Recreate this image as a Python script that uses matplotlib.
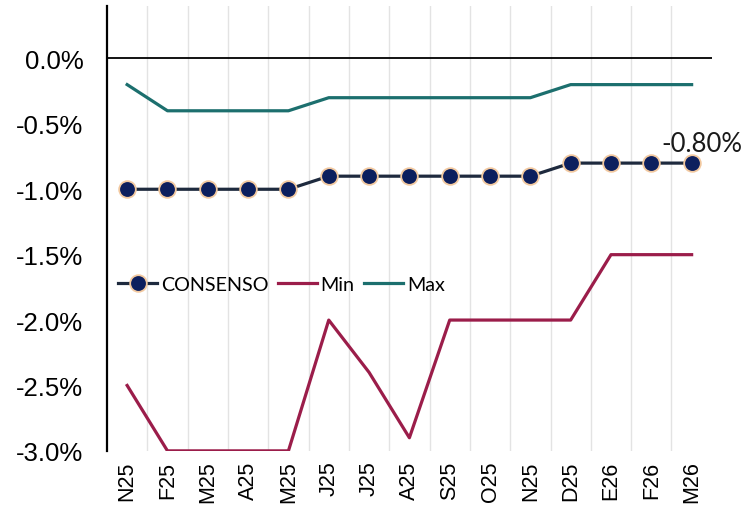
import matplotlib
matplotlib.use("Agg")
import matplotlib.pyplot as plt
from matplotlib.ticker import FuncFormatter, MultipleLocator

months = ["N25", "F25", "M25", "A25", "M25", "J25", "J25", "A25",
          "S25", "O25", "N25", "D25", "E26", "F26", "M26"]
consenso = [-1.0, -1.0, -1.0, -1.0, -1.0, -0.9, -0.9, -0.9,
            -0.9, -0.9, -0.9, -0.8, -0.8, -0.8, -0.8]
min_vals = [-2.5, -3.0, -3.0, -3.0, -3.0, -2.0, -2.4, -2.9,
            -2.0, -2.0, -2.0, -2.0, -1.5, -1.5, -1.5]
max_vals = [-0.2, -0.4, -0.4, -0.4, -0.4, -0.3, -0.3, -0.3,
            -0.3, -0.3, -0.3, -0.2, -0.2, -0.2, -0.2]

navy_line = "#1E2A3E"
navy_fill = "#0C1F5E"
marker_edge = "#F2C9A0"
min_color = "#9B1D4A"
max_color = "#1C6F6E"

fig = plt.figure(figsize=(7.43, 5.10), dpi=100)
ax = fig.add_axes([0.144, 0.114, 0.814, 0.872])

x = list(range(len(months)))

ax.plot(x, min_vals, color=min_color, lw=2.3, label="Min", zorder=3)
ax.plot(x, max_vals, color=max_color, lw=2.3, label="Max", zorder=3)
ax.plot(x, consenso, color=navy_line, lw=2.3, marker="o", ms=12,
        markerfacecolor=navy_fill, markeredgecolor=marker_edge,
        markeredgewidth=1.3, label="CONSENSO", zorder=4)

ax.axhline(0, color="black", lw=1.3, zorder=2)

ax.set_xlim(-0.5, len(months) - 0.5)
ax.set_ylim(-3.0, 0.4)

# vertical gridlines between categories
for b in range(len(months) - 1):
    ax.axvline(b + 0.5, color="#E3E3E3", lw=1.0, zorder=1)

ax.set_xticks(x)
ax.set_xticklabels(months, rotation=90, fontsize=15.5,
                   family="Liberation Sans")
ax.yaxis.set_major_locator(MultipleLocator(0.5))
ax.yaxis.set_major_formatter(FuncFormatter(lambda v, p: f"{v:.1f}%"))
for lbl in ax.get_yticklabels():
    lbl.set_fontsize(18.5)
    lbl.set_family("Liberation Sans")
ax.tick_params(axis="both", length=0)
ax.tick_params(axis="y", pad=17)
ax.tick_params(axis="x", pad=7)

for side in ["top", "right", "bottom"]:
    ax.spines[side].set_visible(False)
ax.spines["left"].set_linewidth(1.6)
ax.spines["left"].set_color("black")

ax.annotate(f"{consenso[-1]:.2f}%", (x[-1], consenso[-1]),
            xytext=(-22, 9), textcoords="offset points",
            fontsize=18.5, family="Lato", color="#1A1A1A")

handles, labels = ax.get_legend_handles_labels()
order = [2, 0, 1]
leg = ax.legend([handles[i] for i in order], [labels[i] for i in order],
                loc="center left", bbox_to_anchor=(-0.004, 0.374), ncol=3,
                frameon=False, handlelength=1.95, handletextpad=0.2,
                columnspacing=0.5, borderaxespad=0.3,
                prop={"family": "Lato", "size": 14.2})

fig.savefig("out.png", dpi=100, facecolor="white")
